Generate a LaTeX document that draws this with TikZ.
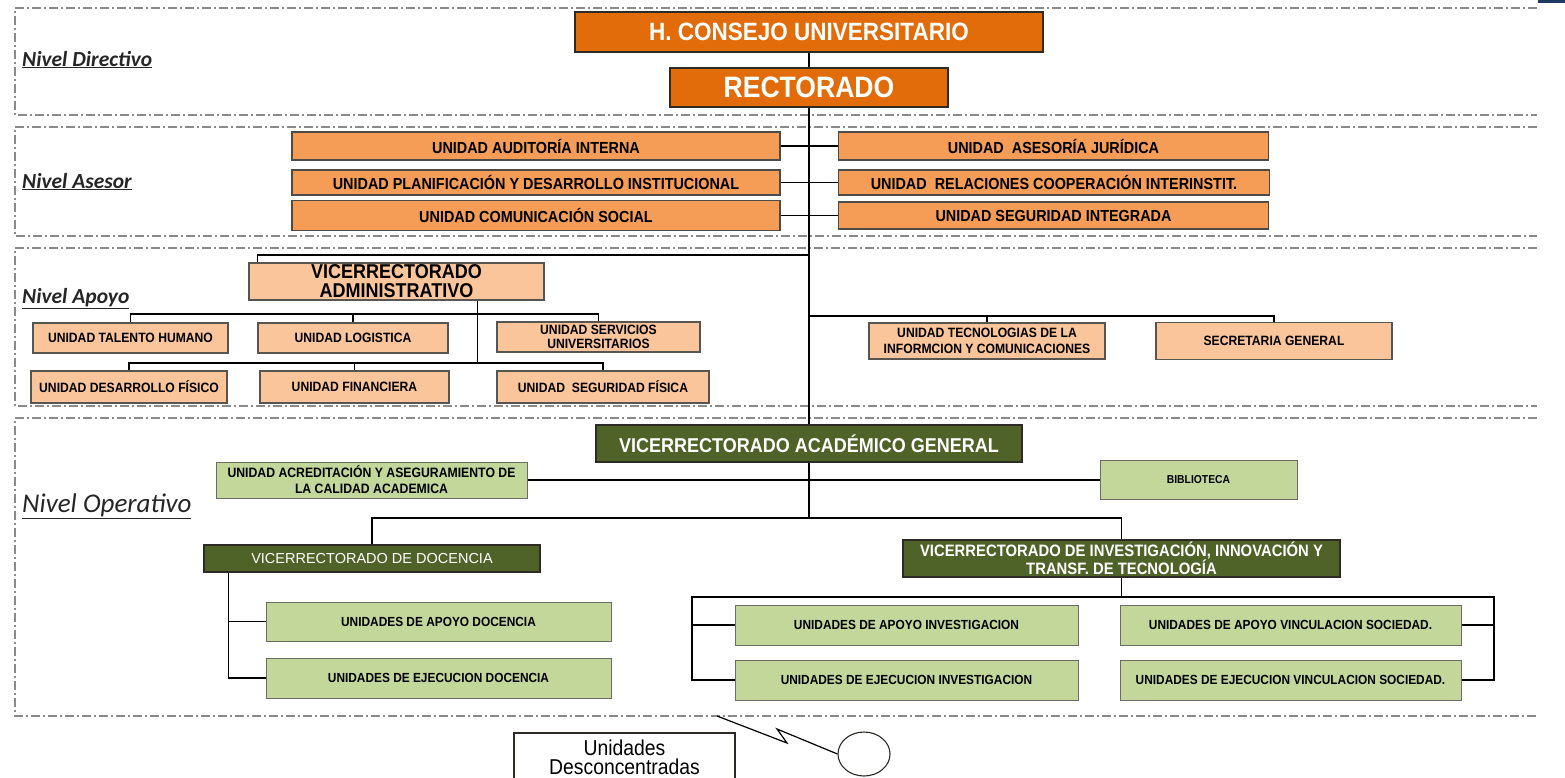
\documentclass[tikz,border=0pt]{standalone}
\usepackage{fontspec}
\setmainfont{Liberation Sans}
\newfontfamily\nar[FakeStretch=0.9]{Liberation Sans}
\newfontfamily\carl{Carlito}
\usetikzlibrary{shapes.geometric}
\definecolor{orD}{HTML}{E36C0A}
\definecolor{orM}{HTML}{F59D56}
\definecolor{peach}{HTML}{FAC59A}
\definecolor{gD}{HTML}{4F6228}
\definecolor{gL}{HTML}{C4D79B}
\definecolor{brd}{HTML}{2E2A26}
\definecolor{frm}{HTML}{8A8A8A}
\definecolor{navy}{HTML}{1F3864}
\tikzset{
  box/.style={draw, inner sep=0pt, align=center},
  topbox/.style={box, fill=orD, draw=brd, line width=2.2pt, text=white},
  asbox/.style={box, fill=orM, draw=brd!85, line width=1.4pt, font=\nar\bfseries\fontsize{16}{18}\selectfont},
  apbox/.style={box, fill=peach, draw=brd!80, line width=1.1pt, font=\nar\bfseries\fontsize{13.5}{15}\selectfont},
  dgbox/.style={box, fill=gD, draw=brd, line width=1.4pt, text=white},
  lgbox/.style={box, fill=gL, draw=brd!70, line width=1pt, font=\nar\bfseries\fontsize{13.2}{15}\selectfont},
  frame/.style={draw=frm, line width=1.4pt, dash pattern=on 9pt off 3pt on 2pt off 3pt},
  conn/.style={draw=black, line width=1.2pt},
  spine/.style={draw=black, line width=2.6pt},
  lvl/.style={anchor=base west, inner sep=0pt, text=black!85},
  lvlb/.style={lvl, font=\carl\bfseries\itshape\fontsize{21.5}{23}\selectfont},
}
\begin{document}
\begin{tikzpicture}[x=1pt,y=-1pt]
\useasboundingbox (0,0) rectangle (1565,777);
\clip (0,0) rectangle (1565,777);
\fill[white] (0,0) rectangle (1565,777);
\fill[navy] (1538,0) rectangle (1565,2.5);

% level frames
\draw[frame] (1537,8) -- (15,8) -- (15,115) -- (1537,115);
\draw[frame] (1537,127) -- (15,127) -- (15,236) -- (1537,236);
\draw[frame] (1537,248) -- (15,248) -- (15,406) -- (1537,406);
\draw[frame] (1537,418) -- (15,418) -- (15,716) -- (1537,716);

% level labels
\node[lvlb] (ldir) at (22,66) {\underline{Nivel Directivo}};
\node[lvlb] (lase) at (22,188) {\underline{Nivel Asesor}};
\node[lvlb] (lapo) at (22,303) {\underline{Nivel Apoyo}};
\node[lvl, font=\carl\itshape\fontsize{27}{29}\selectfont] (lope) at (22,512) {\underline{Nivel Operativo}};

% directivo
\node[topbox, minimum width=468, minimum height=40, font=\nar\bfseries\fontsize{25}{28}\selectfont] (consejo) at (809,32) {H. CONSEJO UNIVERSITARIO};
\node[topbox, minimum width=278, minimum height=39, font=\nar\bfseries\fontsize{29.5}{32}\selectfont] (rect) at (809,87.5) {RECTORADO};

% asesor
\node[asbox, minimum width=488, minimum height=28] (audit) at (536,146) {UNIDAD AUDITORÍA INTERNA};
\node[asbox, minimum width=488, minimum height=25] (planif) at (536,182.5) {UNIDAD PLANIFICACIÓN Y DESARROLLO INSTITUCIONAL};
\node[asbox, minimum width=488, minimum height=30] (comun) at (536,215.5) {UNIDAD COMUNICACIÓN SOCIAL};
\node[asbox, minimum width=430, minimum height=28] (jurid) at (1053.5,146) {UNIDAD\ \ ASESORÍA JURÍDICA};
\node[asbox, minimum width=431, minimum height=25] (relac) at (1054,182.5) {UNIDAD\ \ RELACIONES COOPERACIÓN INTERINSTIT.};
\node[asbox, minimum width=430, minimum height=27] (segint) at (1053.5,215.5) {UNIDAD SEGURIDAD INTEGRADA};

% apoyo
\node[apbox, minimum width=295, minimum height=37, font=\nar\bfseries\fontsize{20}{19}\selectfont] (va) at (396.5,281.5) {VICERRECTORADO\\ADMINISTRATIVO};
\node[apbox, minimum width=195, minimum height=30] (talento) at (130.5,338) {UNIDAD TALENTO HUMANO};
\node[apbox, minimum width=190, minimum height=30] (logis) at (353,338) {UNIDAD LOGISTICA};
\node[apbox, minimum width=203, minimum height=30, font=\nar\bfseries\fontsize{13.5}{13.5}\selectfont] (servic) at (598.5,337) {UNIDAD SERVICIOS\\UNIVERSITARIOS};
\node[apbox, minimum width=196, minimum height=32] (desfis) at (129,387) {UNIDAD DESARROLLO FÍSICO};
\node[apbox, minimum width=189, minimum height=32] (financ) at (354.5,387) {UNIDAD FINANCIERA};
\node[apbox, minimum width=212, minimum height=32] (segfis) at (603,387) {UNIDAD\ \ SEGURIDAD FÍSICA};
\node[apbox, minimum width=236, minimum height=36, font=\nar\bfseries\fontsize{13.5}{15.5}\selectfont] (tic) at (987,341) {UNIDAD TECNOLOGIAS DE LA\\INFORMCION Y COMUNICACIONES};
\node[apbox, minimum width=236, minimum height=37] (secgen) at (1274,341) {SECRETARIA GENERAL};

% operativo
\node[dgbox, minimum width=426, minimum height=37, font=\nar\bfseries\fontsize{20}{22}\selectfont] (vag) at (809,443.5) {VICERRECTORADO ACADÉMICO GENERAL};
\node[lgbox, minimum width=311, minimum height=36, font=\nar\bfseries\fontsize{13.6}{16}\selectfont] (acred) at (371.5,480) {UNIDAD ACREDITACIÓN Y ASEGURAMIENTO DE\\LA CALIDAD ACADEMICA};
\node[lgbox, minimum width=197, minimum height=39, font=\nar\bfseries\fontsize{11.5}{13}\selectfont] (biblio) at (1198.5,480) {BIBLIOTECA};
\node[dgbox, minimum width=336, minimum height=27, font=\fontsize{14.5}{16}\selectfont] (doc) at (372,558.5) {VICERRECTORADO DE DOCENCIA};
\node[dgbox, minimum width=437, minimum height=37, font=\nar\bfseries\fontsize{16.5}{17}\selectfont] (inv) at (1121.5,558.5) {VICERRECTORADO DE INVESTIGACIÓN, INNOVACIÓN Y\\TRANSF. DE TECNOLOGÍA};
\node[lgbox, minimum width=345, minimum height=39] (apdoc) at (438.5,621.5) {UNIDADES DE APOYO DOCENCIA};
\node[lgbox, minimum width=345, minimum height=40] (ejdoc) at (438.5,678) {UNIDADES DE EJECUCION DOCENCIA};
\node[lgbox, minimum width=343, minimum height=40] (apinv) at (906.5,625) {UNIDADES DE APOYO INVESTIGACION};
\node[lgbox, minimum width=343, minimum height=40] (ejinv) at (906.5,680) {UNIDADES DE EJECUCION INVESTIGACION};
\node[lgbox, minimum width=341, minimum height=40] (apvin) at (1290.5,625) {UNIDADES DE APOYO VINCULACION SOCIEDAD.};
\node[lgbox, minimum width=341, minimum height=40] (ejvin) at (1290.5,680) {UNIDADES DE EJECUCION VINCULACION SOCIEDAD.};

% bottom
\node[box, fill=white, draw=brd, line width=1.2pt, minimum width=221, minimum height=48, font=\nar\fontsize{21.5}{19}\selectfont] (desc) at (624.5,757) {Unidades\\Desconcentradas};
\node[draw=brd, line width=1.1pt, ellipse, minimum width=52, minimum height=44, inner sep=0pt] (circ) at (864,754) {};
\coordinate (bolt) at (717,716);
\draw[conn] (bolt) -- (787,743) -- (777,729) -- (circ.west);

% spine
\draw[spine] (consejo.south) -- (rect.north);
\draw[spine] (rect.south) -- (vag.north);
\coordinate (bus4) at (0,518);
\draw[spine] (vag.south) -- (vag.south |- bus4);

% asesor connectors
\draw[conn] (audit.east) -- (jurid.west);
\draw[conn] (planif.east) -- (relac.west);
\draw[conn] (comun.east) -- (segint.west);

% apoyo connectors
\coordinate (ja) at (809,255);
\draw[conn] (ja) -| ([xshift=9pt]va.north west);
\coordinate (vastem) at ([xshift=-67pt]va.south east);
\coordinate (bus1) at (0,314);
\coordinate (bus2) at (0,363);
\draw[conn] (vastem) -- (vastem |- bus2);
\draw[conn] (talento.north) |- (servic.north |- bus1) -- (servic.north);
\draw[conn] (logis.north) -- (logis.north |- bus1);
\draw[conn] (desfis.north) |- (segfis.north |- bus2) -- (segfis.north);
\draw[conn] (financ.north) -- (financ.north |- bus2);
\coordinate (jb) at (809,316);
\draw[conn] (jb) -| (secgen.north);
\draw[conn] (tic.north) -- (tic.north |- jb);

% operativo connectors
\draw[conn] (acred.east) -- (biblio.west);
\draw[conn] (doc.north) |- (inv.north |- bus4) -- (inv.north);
\coordinate (dstem) at ([xshift=25pt]doc.south west);
\draw[conn] (dstem) |- (ejdoc.west);
\draw[conn] (apdoc.west) -- (apdoc.west -| dstem);
\coordinate (lrail) at (692,597);
\coordinate (rrail) at (1494,597);
\draw[conn] (ejinv.west) -| (lrail) -- (rrail) |- (ejvin.east);
\draw[conn] (apinv.west) -- (apinv.west -| lrail);
\draw[conn] (apvin.east) -- (apvin.east -| rrail);
\draw[conn] (inv.south) -- (inv.south |- lrail);
\end{tikzpicture}
\end{document}
